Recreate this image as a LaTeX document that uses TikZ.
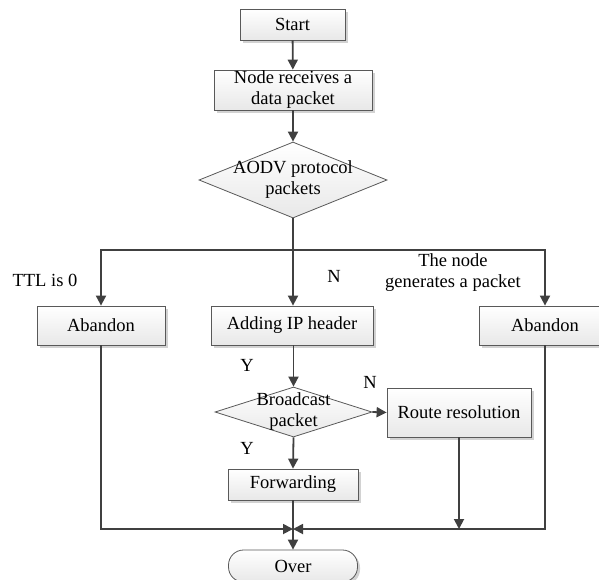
\documentclass[tikz,border=0pt]{standalone}
\usepackage{fontspec}
\setmainfont{Liberation Serif}
\usetikzlibrary{shapes.geometric,shadows,arrows.meta}
\begin{document}
\begin{tikzpicture}[x=1pt,y=-1pt,
  txt/.style={font=\fontsize{18.5}{21}\selectfont, align=center, inner sep=0pt},
  box/.style={txt, draw=black!65, line width=0.8pt, top color=white, bottom color=black!9,
    drop shadow={shadow xshift=2.5pt, shadow yshift=-2.5pt, fill=black!25, opacity=0.7}},
  dia/.style={diamond, draw=black!65, line width=0.8pt, top color=white, bottom color=black!9, inner sep=0pt},
  line/.style={draw=black!75, line width=1.8pt},
  conn/.style={line, -{Triangle[length=10pt,width=10pt]}}]
\useasboundingbox (0,0) rectangle (599,579);
% nodes
\node[box, minimum width=105pt, minimum height=31pt] (start) at (292.5,24.5) {Start};
\node[box, minimum width=158pt, minimum height=40pt] (recv) at (293,90) {Node receives a\\data packet};
\node[dia, minimum width=188pt, minimum height=76pt] (d1) at (293,180) {};
\node[txt] (d1t) at (d1) {AODV protocol\\packets};
\node[box, minimum width=128pt, minimum height=39pt] (abL) at (101,325.5) {Abandon};
\node[box, minimum width=162pt, minimum height=39pt] (add) at (292,325.5) {Adding IP header};
\node[box, minimum width=132pt, minimum height=39pt] (abR) at (545,325.5) {Abandon};
\node[dia, minimum width=157pt, minimum height=50pt] (d2) at (293.5,412) {};
\node[txt] (d2t) at (d2) {Broadcast\\packet};
\node[box, minimum width=144pt, minimum height=49pt] (route) at (459,412.5) {Route resolution};
\node[box, minimum width=130pt, minimum height=31pt] (fwd) at (293,484.5) {Forwarding};
\node[box, rounded corners=15pt, minimum width=129pt, minimum height=32pt] (over) at (293,566) {Over};
% labels
\node[txt] (lttl) at (45,280) {TTL is 0};
\node[txt] (ln1) at (334,276) {N};
\node[txt] (lgen) at (453,273) {The node\\generates a packet};
\node[txt] (ly1) at (247,365) {Y};
\node[txt] (ln2) at (370,382) {N};
\node[txt] (ly2) at (247,448) {Y};
% connectors
\coordinate (jn) at (293,250);
\coordinate (bj) at (293,529);
\draw[conn] (start) -- (recv);
\draw[conn] (recv) -- (d1);
\draw[line] (d1.south) -- (jn);
\draw[conn] (jn) -| (abL.north);
\draw[conn] (jn) -- (jn |- add.north);
\draw[conn] (jn) -| (abR.north);
\draw[conn] (d2.north |- add.south) -- (d2.north);
\draw[conn] (d2.east) -- (route.west);
\draw[conn] (d2.south) -- (fwd.north);
\draw[conn] (fwd.south) -- (over.north);
\draw[conn] (abL.south) |- (bj);
\draw[conn] (abR.south) |- (bj);
\draw[conn] (route.south) -- (route.south |- bj);
\end{tikzpicture}
\end{document}
